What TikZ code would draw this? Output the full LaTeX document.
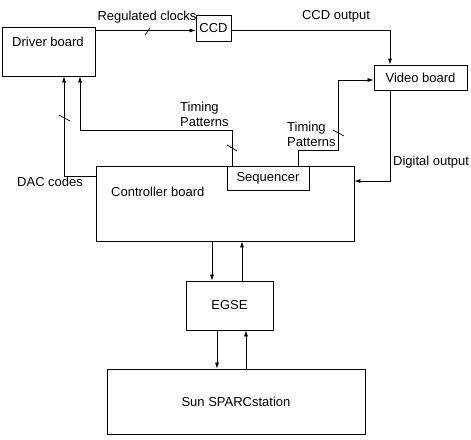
\documentclass[tikz,border=0pt]{standalone}
\usepackage{fontspec}
\setmainfont{Liberation Sans}
\usetikzlibrary{arrows.meta}
\begin{document}
\begin{tikzpicture}[x=1pt,y=-1pt,
  font=\fontsize{13}{15}\selectfont,
  box/.style={draw,line width=0.8pt,inner sep=0pt,minimum width=#1},
  arr/.style={draw,line width=0.7pt,-{Latex[length=6pt,width=4pt]}},
  ln/.style={draw,line width=0.7pt},
  lbl/.style={inner sep=0pt,anchor=west,align=left}]
\useasboundingbox (0,0) rectangle (471,439);
% boxes
\node[box=93pt,minimum height=49pt] (driver) at (48.5,51.5) {};
\node[box=35pt,minimum height=26pt] (ccd) at (213.5,28) {CCD};
\node[box=93pt,minimum height=25pt] (video) at (420.5,77.5) {Video board};
\node[box=258pt,minimum height=75pt] (ctrl) at (225,203.5) {};
\node[box=82pt,minimum height=24pt] (seq) at (268,178) {Sequencer};
\node[box=87pt,minimum height=49pt] (egse) at (229.5,305.5) {EGSE};
\node[box=258pt,minimum height=65pt] (sun) at (236,401.5) {Sun SPARCstation};
% box texts
\node[lbl] (drivertxt) at (12,42) {Driver board};
\node[lbl] (ctrltxt) at (111,192) {Controller board};
% labels
\node (lregclk) at (147,17) {Regulated clocks};
\node (lccdout) at (336,16) {CCD output};
\node[lbl] (ltp1) at (180,114) {Timing\\Patterns};
\node[lbl] (ltp2) at (287,134.5) {Timing\\Patterns};
\node[lbl] (ldig) at (393,162) {Digital output};
\node[lbl] (ldac) at (17,182) {DAC codes};
% connectors
\draw[arr] ([yshift=-2.5pt]ccd.west -| driver.east) -- ([yshift=-2.5pt]ccd.west);
\draw[ln] (145,35) -- (150,28);
\draw[arr] ([yshift=-2.5pt]ccd.east) -| ([xshift=-30.5pt]video.north);
\draw[arr] ([xshift=30pt]seq.north) |- (338,150) |- ([yshift=-2.5pt]video.west);
\draw[ln] (333,130) -- (344,136);
\draw[arr] ([xshift=-30.5pt]video.south) |- ([yshift=22.5pt]ctrl.east);
\draw[arr] ([xshift=-36pt]seq.north) -- ++(0,-35) -| ([xshift=31.5pt]driver.south);
\draw[ln] (227,145) -- (237,151);
\draw[arr] ([yshift=27.5pt]ctrl.west) -| ([xshift=15.5pt]driver.south);
\draw[ln] (59,115) -- (70,121);
\draw[arr] ([xshift=-17.5pt]egse.north |- ctrl.south) -- ([xshift=-17.5pt]egse.north);
\draw[arr] ([xshift=12.5pt]egse.north) -- ([xshift=12.5pt]egse.north |- ctrl.south);
\draw[arr] ([xshift=-12.5pt]egse.south) -- ([xshift=-12.5pt]egse.south |- sun.north);
\draw[arr] ([xshift=16.5pt]egse.south |- sun.north) -- ([xshift=16.5pt]egse.south);
\end{tikzpicture}
\end{document}
